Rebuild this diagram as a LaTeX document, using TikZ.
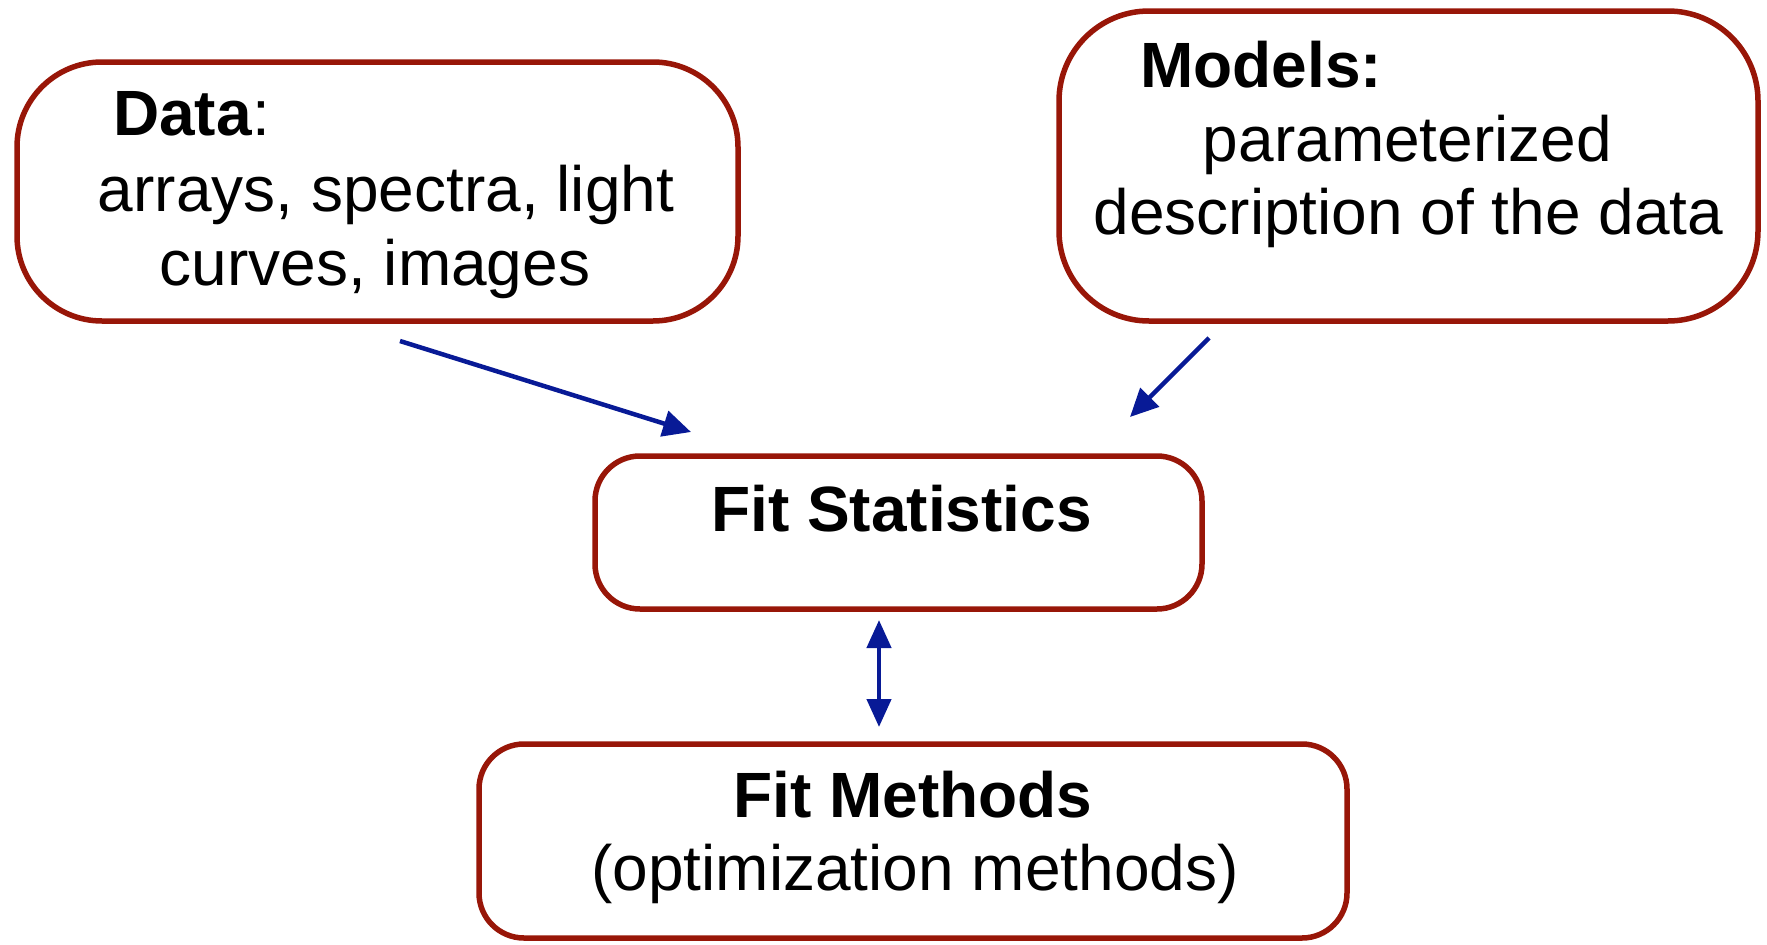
\documentclass[tikz,border=0pt]{standalone}
\usepackage{fontspec}
\setmainfont{Liberation Sans}
\usetikzlibrary{arrows.meta}
\definecolor{boxred}{RGB}{152,22,8}
\definecolor{arrblue}{RGB}{8,26,150}
\tikzset{
  box/.style={draw=boxred, line width=5.5pt, fill=white, inner sep=0pt},
  lbl/.style={anchor=base, inner sep=0pt, font=\fontsize{64}{76}\selectfont},
  conn/.style={draw=arrblue, line width=4.5pt, -{Triangle[length=28pt,width=26pt]}},
  conn2/.style={draw=arrblue, line width=4.5pt, {Triangle[length=28pt,width=24pt]}-{Triangle[length=28pt,width=24pt]}}
}
\begin{document}
\begin{tikzpicture}[x=1pt,y=-1pt]
\useasboundingbox (0,0) rectangle (1767,945);
% boxes
\node[box, rounded corners=85pt, minimum width=721pt, minimum height=259pt] (data) at (377.5,191.5) {};
\node[box, rounded corners=90pt, minimum width=699pt, minimum height=310pt] (models) at (1408.5,166) {};
\node[box, rounded corners=45pt, minimum width=607pt, minimum height=153pt] (stats) at (898.5,532.5) {};
\node[box, rounded corners=45pt, minimum width=868pt, minimum height=194pt] (methods) at (913,841) {};
% texts
\node[lbl, anchor=base west] (dataT) at (113,135) {\textbf{Data}:};
\node[lbl] (data1) at (386,211) {arrays, spectra, light};
\node[lbl] (data2) at (375,285) {curves, images};
\node[lbl, anchor=base west] (modT) at (1140,87) {\textbf{Models:}};
\node[lbl] (mod1) at (1407.5,161) {parameterized};
\node[lbl] (mod2) at (1408.5,234) {description of the data};
\node[lbl] (statT) at (901.5,531) {\textbf{Fit Statistics}};
\node[lbl] (methT) at (913,817) {\textbf{Fit Methods}};
\node[lbl] (meth1) at (915,890) {(optimization methods)};
% connector ends
\coordinate (a1s) at (400,341);
\coordinate (a1e) at (691,432);
\coordinate (a2s) at (1209,338);
\coordinate (a2e) at (1130,417);
\coordinate (a3s) at (879,620);
\coordinate (a3e) at (879,727);
\draw[conn] (a1s) -- (a1e);
\draw[conn] (a2s) -- (a2e);
\draw[conn2] (a3s) -- (a3e);
\end{tikzpicture}
\end{document}
